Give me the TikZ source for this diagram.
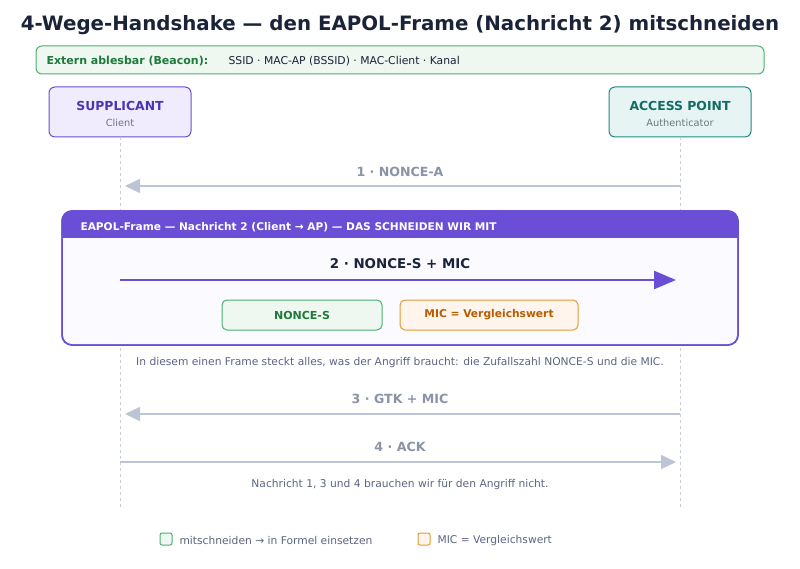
\documentclass[tikz,border=0pt]{standalone}
\usepackage{fontspec}
\setmainfont{DejaVu Sans}
\usetikzlibrary{arrows.meta}

\definecolor{navy}{HTML}{1A2338}
\definecolor{grn}{HTML}{4CB16E}
\definecolor{grnfill}{HTML}{EEF7F0}
\definecolor{grntext}{HTML}{1E7A3A}
\definecolor{purp}{HTML}{6A4FD6}
\definecolor{purpfill}{HTML}{F0ECFD}
\definecolor{purptext}{HTML}{4B33B5}
\definecolor{teal}{HTML}{1E8A82}
\definecolor{tealfill}{HTML}{E6F5F4}
\definecolor{tealtext}{HTML}{136B64}
\definecolor{orng}{HTML}{E69A2E}
\definecolor{orngfill}{HTML}{FFF5EC}
\definecolor{orngtext}{HTML}{B85C00}
\definecolor{msg}{HTML}{BCC5D6}
\definecolor{msgtext}{HTML}{8A94A6}
\definecolor{note}{HTML}{5A6680}
\definecolor{life}{HTML}{C8CDD6}

\tikzset{
  actor/.style={draw, rounded corners=6pt, line width=1pt, minimum width=142pt, minimum height=50pt},
  field/.style={draw, rounded corners=5pt, line width=1pt, minimum height=30pt},
  msglabel/.style={font=\bfseries\fontsize{12.6}{15}\selectfont, text=msgtext},
  notetext/.style={font=\fontsize{10.7}{13}\selectfont, text=note},
  greymsg/.style={draw=msg, line width=1.5pt, -{Triangle[length=15pt, width=14pt]}},
}

\begin{document}
\begin{tikzpicture}[x=1pt, y=-1pt]
  \useasboundingbox[fill=white] (0,0) rectangle (800,569);

  % title
  \node[font=\bfseries\fontsize{19.8}{24}\selectfont, text=navy] (title) at (400,25) {4-Wege-Handshake — den EAPOL-Frame (Nachricht 2) mitschneiden};

  % beacon info
  \draw[grn, fill=grnfill, rounded corners=6pt, line width=1pt] (36,46) rectangle (764,74);
  \node[anchor=west, font=\bfseries\fontsize{11}{13}\selectfont, text=grntext] (beacon) at (43,61.5) {Extern ablesbar (Beacon):};
  \node[anchor=west, font=\fontsize{10.8}{13}\selectfont, text=navy] (beaconval) at (225,61.5) {SSID · MAC-AP (BSSID) · MAC-Client · Kanal};

  % actors
  \node[actor, draw=purp, fill=purpfill] (supp) at (120,112) {};
  \node[font=\bfseries\fontsize{12.4}{15}\selectfont, text=purptext] at (120,106) {SUPPLICANT};
  \node[font=\fontsize{9.8}{12}\selectfont, text=msgtext!80!black] at (120,123) {Client};
  \node[actor, draw=teal, fill=tealfill] (ap) at (680,112) {};
  \node[font=\bfseries\fontsize{12.4}{15}\selectfont, text=tealtext] at (680,106) {ACCESS POINT};
  \node[font=\fontsize{9.8}{12}\selectfont, text=msgtext!80!black] at (680,123) {Authenticator};

  % lifelines
  \coordinate (suppend) at (120,508);
  \coordinate (apend) at (680,508);
  \draw[life, dashed, line width=1pt] (supp.south) -- (suppend);
  \draw[life, dashed, line width=1pt] (ap.south) -- (apend);

  % message 1
  \coordinate (ap1) at (680,186);
  \coordinate (supp1) at (125,186);
  \draw[greymsg] (ap1) -- (supp1);
  \node[msglabel] (m1) at (400,171.5) {1 · NONCE-A};

  % EAPOL frame
  \draw[purp, fill=white!98!blue, rounded corners=10pt, line width=1.5pt] (62,211) rectangle (738,345);
  \begin{scope}
    \clip[rounded corners=10pt] (62,211) rectangle (738,345);
    \fill[purp] (62,211) rectangle (738,238);
  \end{scope}
  \draw[purp, rounded corners=10pt, line width=1.5pt] (62,211) rectangle (738,345);
  \node[anchor=west, font=\bfseries\fontsize{10.6}{12}\selectfont, text=white] (head) at (77,227) {EAPOL-Frame — Nachricht 2 (Client → AP) — DAS SCHNEIDEN WIR MIT};

  % message 2
  \coordinate (supp2) at (120,280);
  \coordinate (ap2) at (676,280);
  \draw[purp, line width=2.5pt, -{Triangle[length=22pt, width=18pt]}] (supp2) -- (ap2);
  \node[font=\bfseries\fontsize{13.4}{16}\selectfont, text=navy] (m2) at (400,263.5) {2 · NONCE-S + MIC};

  % fields
  \node[field, draw=grn, fill=grnfill, text=grntext, minimum width=160pt, font=\bfseries\fontsize{11}{13}\selectfont] (nonce) at (302,315) {NONCE-S};
  \node[field, draw=orng, fill=orngfill, text=orngtext, minimum width=178pt, font=\bfseries\fontsize{10.7}{13}\selectfont] (mic) at (489,315) {MIC = Vergleichswert};

  \node[notetext] (note1) at (400,362.5) {In diesem einen Frame steckt alles, was der Angriff braucht: die Zufallszahl NONCE-S und die MIC.};

  % message 3
  \coordinate (ap3) at (680,414);
  \coordinate (supp3) at (125,414);
  \draw[greymsg] (ap3) -- (supp3);
  \node[msglabel] (m3) at (400,398.5) {3 · GTK + MIC};

  % message 4
  \coordinate (supp4) at (120,462);
  \coordinate (ap4) at (676,462);
  \draw[greymsg] (supp4) -- (ap4);
  \node[msglabel] (m4) at (400,446.5) {4 · ACK};

  \node[notetext] (note2) at (400,484.5) {Nachricht 1, 3 und 4 brauchen wir für den Angriff nicht.};

  % legend
  \draw[grn, fill=grnfill, rounded corners=2pt, line width=1pt] (160,533) rectangle (172,545);
  \node[notetext, anchor=west] (leg1) at (176,540.5) {mitschneiden → in Formel einsetzen};
  \draw[orng, fill=orngfill, rounded corners=2pt, line width=1pt] (418,533) rectangle (430,545);
  \node[notetext, anchor=west] (leg2) at (434,540.5) {MIC = Vergleichswert};
\end{tikzpicture}
\end{document}
